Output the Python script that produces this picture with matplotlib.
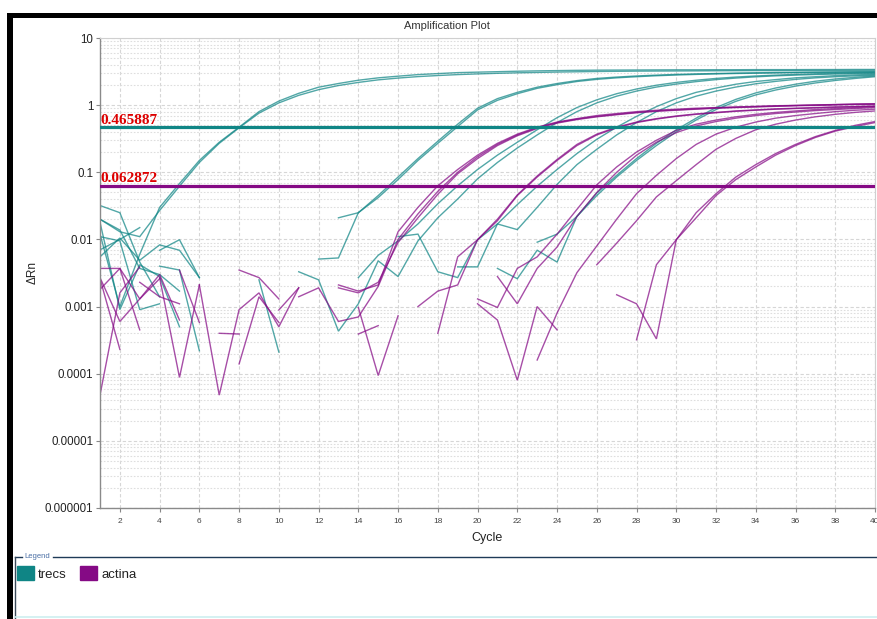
import numpy as np
import matplotlib
matplotlib.use("Agg")
import matplotlib.pyplot as plt
from matplotlib.lines import Line2D
from matplotlib.patches import Patch, Rectangle
from matplotlib.ticker import FixedLocator, FuncFormatter, LogLocator, NullFormatter

nan = np.nan

# Raw delta-Rn per cycle (nan = below zero, not drawn on the log axis)
cycles = np.arange(1, 41)

trecs_wells = [
    [0.012, 0.001, 0.006, 0.030, 0.068, 0.15, 0.28, 0.47, 0.80, 1.15,
     1.50, 1.85, 2.10, 2.35, 2.55, 2.70, 2.85, 2.95, 3.05, 3.10,
     3.15, 3.20, 3.24, 3.27, 3.30, 3.32, 3.33, 3.34, 3.35, 3.36,
     3.36, 3.37, 3.37, 3.38, 3.38, 3.38, 3.39, 3.39, 3.40, 3.40],
    [0.020, 0.013, 0.011, 0.027, 0.062, 0.14, 0.27, 0.46, 0.76, 1.08,
     1.40, 1.70, 1.96, 2.18, 2.38, 2.53, 2.66, 2.76, 2.85, 2.92,
     2.98, 3.03, 3.07, 3.11, 3.14, 3.17, 3.19, 3.21, 3.22, 3.23,
     3.24, 3.25, 3.26, 3.27, 3.27, 3.28, 3.28, 3.29, 3.29, 3.30],
    [0.032, 0.025, 0.0046, 0.0014, nan, nan, nan, nan, nan, nan,
     nan, nan, 0.021, 0.025, 0.045, 0.085, 0.16, 0.29, 0.52, 0.90,
     1.25, 1.55, 1.85, 2.10, 2.32, 2.50, 2.62, 2.72, 2.80, 2.87,
     2.92, 2.96, 3.00, 3.03, 3.06, 3.08, 3.10, 3.12, 3.14, 3.15],
    [0.020, 0.0138, 0.0037, 0.0030, 0.0017, nan, nan, nan, nan, nan,
     nan, 0.0051, 0.0053, 0.025, 0.042, 0.078, 0.15, 0.27, 0.48, 0.85,
     1.18, 1.48, 1.78, 2.02, 2.25, 2.42, 2.55, 2.65, 2.74, 2.81,
     2.87, 2.92, 2.96, 2.99, 3.02, 3.05, 3.07, 3.09, 3.10, 3.12],
    [0.007, 0.010, 0.015, nan, nan, nan, nan, nan, 0.0025, 0.00021,
     nan, nan, nan, 0.0027, 0.0058, 0.0095, 0.017, 0.034, 0.063, 0.11,
     0.18, 0.28, 0.43, 0.65, 0.92, 1.20, 1.48, 1.74, 1.98, 2.18,
     2.35, 2.50, 2.62, 2.72, 2.80, 2.87, 2.93, 2.98, 3.02, 3.05],
    [0.011, 0.0095, 0.0009, 0.0011, nan, nan, nan, nan, nan, nan,
     0.0033, 0.0025, 0.00043, 0.0011, 0.0048, 0.0028, 0.0095, 0.021, 0.040, 0.080,
     0.14, 0.23, 0.36, 0.55, 0.80, 1.08, 1.36, 1.62, 1.86, 2.06,
     2.24, 2.40, 2.53, 2.64, 2.73, 2.80, 2.86, 2.91, 2.95, 2.98],
    [nan, nan, nan, 0.0069, 0.0099, 0.0027, nan, nan, nan, nan,
     nan, nan, nan, nan, nan, 0.011, 0.012, 0.0033, 0.0027, 0.0099,
     0.017, 0.033, 0.062, 0.11, 0.19, 0.31, 0.47, 0.68, 0.95, 1.25,
     1.55, 1.80, 2.05, 2.25, 2.40, 2.55, 2.65, 2.75, 2.82, 2.88],
    [nan, nan, nan, 0.0040, 0.0035, 0.00022, nan, nan, nan, nan,
     nan, nan, nan, nan, nan, nan, nan, nan, 0.0039, 0.0039,
     0.017, 0.014, 0.030, 0.066, 0.13, 0.22, 0.36, 0.55, 0.80, 1.08,
     1.36, 1.62, 1.86, 2.08, 2.26, 2.42, 2.55, 2.65, 2.73, 2.80],
    [0.0055, 0.0105, 0.0049, 0.0083, 0.0069, 0.0027, nan, nan, nan, nan,
     nan, nan, nan, nan, nan, nan, nan, nan, nan, nan,
     nan, nan, 0.0091, 0.012, 0.022, 0.049, 0.090, 0.16, 0.27, 0.43,
     0.64, 0.92, 1.22, 1.52, 1.80, 2.05, 2.27, 2.45, 2.60, 2.72],
    [0.018, 0.0009, 0.0042, 0.0028, 0.0005, nan, nan, nan, nan, nan,
     nan, nan, nan, nan, nan, nan, nan, nan, nan, nan,
     0.0037, 0.0026, 0.0069, 0.0046, 0.022, 0.045, 0.085, 0.15, 0.25, 0.40,
     0.60, 0.86, 1.14, 1.42, 1.68, 1.92, 2.14, 2.33, 2.50, 2.65],
]

actina_wells = [
    [4.8e-5, 0.0016, 0.0039, nan, nan, nan, nan, nan, nan, nan,
     nan, nan, 0.0021, 0.0017, 0.0021, 0.013, 0.030, 0.063, 0.11, 0.18,
     0.27, 0.37, 0.47, 0.56, 0.63, 0.70, 0.75, 0.80, 0.84, 0.87,
     0.90, 0.92, 0.94, 0.96, 0.98, 0.99, 1.01, 1.02, 1.04, 1.05],
    [0.0037, 0.0037, 0.0013, 0.0026, nan, nan, nan, nan, nan, nan,
     0.0014, 0.0019, 0.0006, 0.0007, 0.0020, 0.010, 0.024, 0.052, 0.10, 0.17,
     0.26, 0.36, 0.46, 0.55, 0.62, 0.68, 0.73, 0.78, 0.82, 0.85,
     0.88, 0.91, 0.93, 0.95, 0.97, 0.99, 1.00, 1.02, 1.03, 1.04],
    [0.0026, 0.00023, nan, nan, nan, nan, nan, 0.0035, 0.0027, 0.0013,
     nan, nan, 0.0019, 0.0016, 0.0023, 0.009, 0.021, 0.047, 0.095, 0.16,
     0.25, 0.35, 0.45, 0.54, 0.61, 0.67, 0.72, 0.77, 0.81, 0.84,
     0.87, 0.90, 0.92, 0.94, 0.96, 0.98, 0.99, 1.01, 1.02, 1.03],
    [0.0018, 0.0037, 0.00045, nan, nan, 0.0021, 4.8e-5, 0.0009, 0.0016, 0.0005,
     0.0019, nan, nan, nan, nan, nan, 0.0010, 0.0017, 0.0021, 0.0099,
     0.019, 0.045, 0.085, 0.15, 0.25, 0.36, 0.46, 0.55, 0.62, 0.68,
     0.73, 0.77, 0.81, 0.84, 0.87, 0.89, 0.91, 0.93, 0.95, 0.96],
    [0.0027, 0.0006, 0.0013, 0.0030, 0.00063, nan, nan, nan, nan, nan,
     nan, nan, nan, 0.00097, 9.4e-5, 0.00073, nan, 0.0004, 0.0055, 0.0099,
     0.020, 0.046, 0.088, 0.155, 0.26, 0.37, 0.47, 0.56, 0.63, 0.69,
     0.74, 0.78, 0.82, 0.85, 0.88, 0.90, 0.92, 0.94, 0.95, 0.97],
    [nan, nan, 0.0023, 0.0014, 0.0011, nan, 0.0004, 0.00039, nan, nan,
     nan, nan, nan, nan, nan, nan, nan, nan, nan, 0.0013,
     0.00097, 0.0037, 0.0055, 0.012, 0.028, 0.065, 0.12, 0.20, 0.30, 0.42,
     0.52, 0.60, 0.67, 0.73, 0.78, 0.82, 0.86, 0.89, 0.92, 0.95],
    [nan, nan, nan, 0.0027, 8.8e-5, 0.0021, nan, 0.00014, 0.0014, 0.00058,
     nan, nan, nan, nan, nan, nan, nan, nan, nan, nan,
     0.0028, 0.0011, 0.0037, 0.0077, 0.022, 0.050, 0.10, 0.18, 0.28, 0.39,
     0.49, 0.57, 0.64, 0.70, 0.75, 0.79, 0.83, 0.86, 0.89, 0.92],
    [nan, nan, nan, nan, 0.0035, 0.00058, nan, nan, nan, 0.00089,
     0.0019, nan, nan, 0.00039, 0.00052, nan, nan, nan, nan, nan,
     nan, nan, 0.00016, 0.0008, 0.0032, 0.008, 0.020, 0.048, 0.090, 0.16,
     0.26, 0.37, 0.47, 0.56, 0.64, 0.70, 0.75, 0.80, 0.84, 0.87],
    [nan] * 19 + [0.0011, 0.00063, 8e-5, 0.001, 0.00045, nan,
                  0.0042, 0.0088, 0.019, 0.043, 0.075, 0.13, 0.22, 0.32,
                  0.43, 0.52, 0.60, 0.67, 0.73, 0.78, 0.82],
    [nan] * 26 + [0.0015, 0.0011, 0.00033, 0.0099, 0.025, 0.048, 0.085,
                  0.13, 0.19, 0.26, 0.34, 0.42, 0.50, 0.57],
    [nan] * 27 + [0.00032, 0.0042, 0.0099, 0.021, 0.045, 0.078, 0.12,
                  0.18, 0.25, 0.33, 0.41, 0.48, 0.55],
]

targets = ["trecs", "actina"]
thresholds = [0.465887, 0.062872]

TEAL = "#0f8585"
PURPLE = "#850a85"
W, H = 877, 619


def fx(px):
    return px / W


def fy(py):
    return 1 - py / H


def decimal_label(v, pos):
    # plain decimal text for the decade ticks, e.g. 0.00001
    v = float(f"{v:.3g}")
    return np.format_float_positional(v, trim="-")


plt.rcParams["font.family"] = ["Liberation Sans", "DejaVu Sans"]

fig = plt.figure(figsize=(W / 100, H / 100), dpi=100)
fig.patch.set_facecolor("white")

ax = fig.add_axes([fx(100), fy(508), fx(875) - fx(100), fy(38) - fy(508)])
ax.set_yscale("log")
ax.set_xlim(1, 40)
ax.set_ylim(1e-6, 10)

for wells, color in [(trecs_wells, TEAL), (actina_wells, PURPLE)]:
    for well in wells:
        ax.plot(cycles, np.array(well, dtype=float), color=color,
                linewidth=1.0, alpha=0.72, zorder=2, solid_joinstyle="miter")

for thr, color in zip(thresholds, [TEAL, PURPLE]):
    ax.axhline(thr, color=color, linewidth=2.3, zorder=3)
    ax.text(1.0, thr * 1.02, f"{thr:.6f}", color="#dd0000",
            family=["Liberation Serif", "DejaVu Serif"], fontweight="bold",
            fontsize=11, ha="left", va="bottom", zorder=4)

# grid: dashed majors, dotted log minors
ax.set_axisbelow(True)
ax.xaxis.set_major_locator(FixedLocator(np.arange(2, 41, 2)))
ax.yaxis.set_major_locator(LogLocator(base=10, numticks=20))
ax.yaxis.set_minor_locator(LogLocator(base=10, subs=np.arange(2, 10), numticks=20))
ax.yaxis.set_minor_formatter(NullFormatter())
ax.yaxis.set_major_formatter(FuncFormatter(decimal_label))
ax.grid(which="major", color="#d6d6d6", linestyle=(0, (3, 2)), linewidth=0.8)
ax.grid(which="minor", axis="y", color="#dedede", linestyle=(0, (1.5, 1.5)),
        linewidth=0.8)

ax.tick_params(axis="y", which="major", labelsize=8.3, length=3, width=0.8,
               color="#888888", labelcolor="#222222", pad=2)
ax.tick_params(axis="y", which="minor", length=0)
ax.tick_params(axis="x", labelsize=6, length=3, width=0.8, color="#888888",
               labelcolor="#444444", pad=4)

for side in ["left", "bottom"]:
    ax.spines[side].set_color("#8a8a8a")
    ax.spines[side].set_linewidth(1.0)
for side in ["top", "right"]:
    ax.spines[side].set_color("#d0d0d0")
    ax.spines[side].set_linewidth(0.8)

ax.set_xlabel("Cycle", fontsize=9, color="#222222", labelpad=5)
fig.text(fx(33), fy(272), "\u0394Rn", rotation=90, fontsize=8.5,
         color="#222222", ha="center", va="center")
fig.text(fx(447), fy(26), "Amplification Plot", fontsize=8, color="#333333",
         ha="center", va="center")

# black window frame on top and left
fig.add_artist(Rectangle((fx(7), fy(18)), 1 - fx(7), fy(13) - fy(18),
                         transform=fig.transFigure, color="black", lw=0))
fig.add_artist(Rectangle((fx(7), 0), fx(13) - fx(7), fy(13),
                         transform=fig.transFigure, color="black", lw=0))

# legend panel
frame_col = "#1f3b58"
fig.add_artist(Line2D([fx(15), fx(22)], [fy(557), fy(557)],
                      transform=fig.transFigure, color=frame_col, lw=1.0))
fig.add_artist(Line2D([fx(53), 1], [fy(557), fy(557)],
                      transform=fig.transFigure, color=frame_col, lw=1.0))
fig.add_artist(Line2D([fx(15), fx(15)], [fy(557), 0],
                      transform=fig.transFigure, color="#3a4a5a", lw=1.0))
fig.add_artist(Line2D([fx(15), 1], [fy(617), fy(617)],
                      transform=fig.transFigure, color="#cdeff0", lw=1.2))
fig.text(fx(24), fy(557), "Legend", fontsize=5.5, color="#4a6fa5",
         ha="left", va="center")

handles = [Patch(facecolor=c, edgecolor=c) for c in [TEAL, PURPLE]]
fig.legend(handles, targets, loc="upper left",
           bbox_to_anchor=(fx(17), fy(566)), ncol=2, frameon=False,
           fontsize=9.5, handlelength=1.3, handleheight=1.3,
           handletextpad=0.3, columnspacing=1.0, borderpad=0,
           borderaxespad=0, labelcolor="#222222")

fig.savefig("out.png", dpi=100)
